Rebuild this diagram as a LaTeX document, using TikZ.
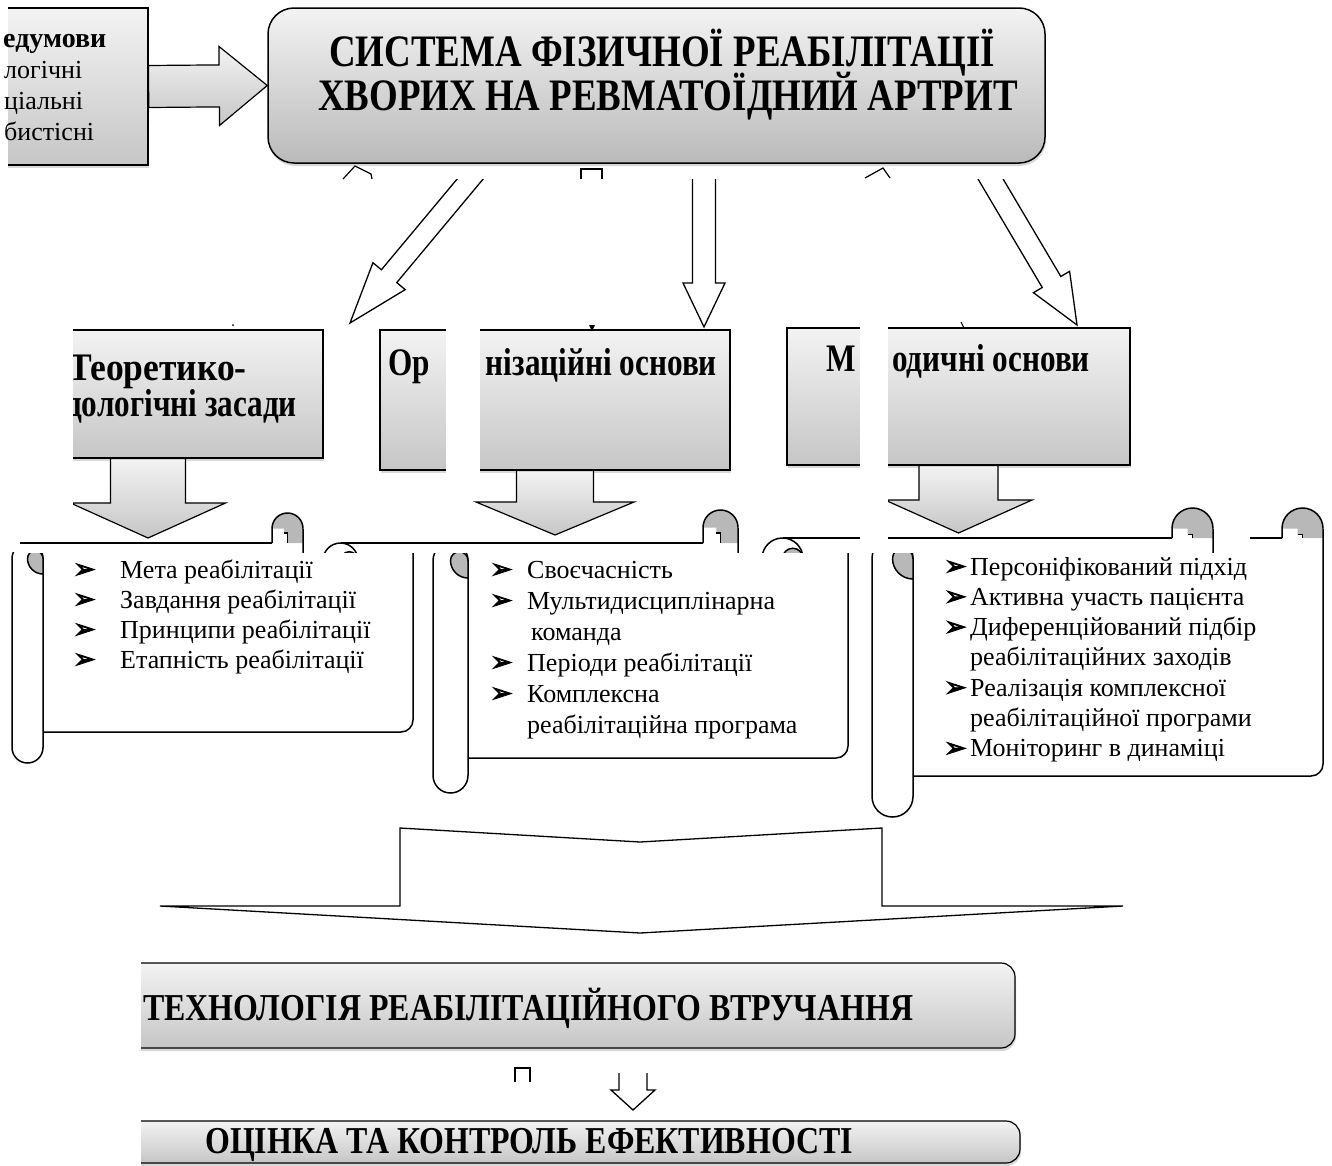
\documentclass[tikz,border=0pt]{standalone}
\usepackage{fontspec}
\setmainfont{Liberation Serif}
\IfFontExistsTF{Liberation Serif Bold}{%
  \newfontfamily\titlefont[FakeStretch=0.82]{Liberation Serif Bold}
  \newfontfamily\condfont[FakeStretch=0.8]{Liberation Serif Bold}
  \newfontfamily\widefont[FakeStretch=0.91]{Liberation Serif Bold}
  \newfontfamily\lowfont[FakeStretch=0.84]{Liberation Serif Bold}
  \newfontfamily\boldserif{Liberation Serif Bold}
}{%
  \newfontfamily\titlefont[FakeStretch=0.74]{DejaVu Serif Bold}
  \newfontfamily\condfont[FakeStretch=0.72]{DejaVu Serif Bold}
  \newfontfamily\widefont[FakeStretch=0.82]{DejaVu Serif Bold}
  \newfontfamily\lowfont[FakeStretch=0.755]{DejaVu Serif Bold}
  \newfontfamily\boldserif[FakeStretch=0.85]{DejaVu Serif Bold}
}
\newfontfamily\symfont[FakeBold=3]{DejaVu Sans}
\usepackage{tikz}
\usetikzlibrary{calc,shadows}

\definecolor{boxtop}{HTML}{F3F3F3}
\definecolor{boxbottom}{HTML}{C6C6C6}
\definecolor{titlebottom}{HTML}{BABABA}
\definecolor{curlgray}{HTML}{B8B8B8}

% block arrow: [style]{from}{to}{shaft half width}{head half width}{head length}
\newcommand{\blockarrow}[6][]{%
  \coordinate (ba-base) at ($(#3)!#6!(#2)$);
  \draw[#1] ($(#2)!#4!90:(#3)$) -- ($(ba-base)!#4!90:(#3)$) -- ($(ba-base)!#5!90:(#3)$)
    -- (#3) -- ($(ba-base)!#5!-90:(#3)$) -- ($(ba-base)!#4!-90:(#3)$) -- ($(#2)!#4!-90:(#3)$) -- cycle;
}

% scroll: {left}{top line}{right}{roll bottom}{roll width}{curl top}
\newcommand{\scrollshape}[6]{%
  \fill[white] ({#1+#5/2},#2) rectangle (#3,{#4-#5});
  \draw[scrolline] ({#1+#5/2},#2) -- ({#3-#5},#2);
  \fill[curlgray] ({#3-#5},{#6+#5/2}) arc[start angle=180,end angle=360,radius=#5/2] -- (#3,#2)
    -- ({#3-#5/2},#2) -- ({#3-#5/2},{#6+0.65*#5}) -- ({#3-0.62*#5},{#6+0.65*#5}) -- ({#3-0.62*#5},{#6+#5/2}) -- cycle;
  \draw[scrolline] ({#3-#5},#2) -- ({#3-#5},{#6+#5/2}) arc[start angle=180,end angle=360,radius=#5/2];
  \draw[scrolline] ({#3-#5/2},#2) -- ({#3-#5/2},{#6+0.65*#5}) -- ({#3-0.62*#5},{#6+0.65*#5});
  \draw[scrolline, rounded corners=12pt] (#3,{#6+#5/2}) -- (#3,{#4-#5}) -- ({#1+#5},{#4-#5});
  \filldraw[scrolline, fill=white] ({#1+#5},{#2+#5/2}) arc[start angle=0,end angle=-180,radius=#5/2]
    -- (#1,{#4-#5/2}) arc[start angle=180,end angle=0,radius=#5/2] -- cycle;
  \filldraw[scrolline, fill=curlgray] ({#1+#5/2},{#2+#5/2}) arc[start angle=180,end angle=360,radius=#5/4]
    -- ({#1+#5},{#2+#5}) arc[start angle=90,end angle=180,radius=#5/2] -- cycle;
}
\newcommand{\allscrolls}{%
  \scrollshape{12}{543}{413}{763}{31}{513}
  \scrollshape{433}{543}{848}{793}{35}{510}
  \scrollshape{872}{538}{1323}{817}{41}{508}
}

\begin{document}
\begin{tikzpicture}[x=1pt, y=-1pt,
headbox/.style={draw, line width=1.2pt, top color=boxtop, bottom color=boxbottom, drop shadow={shadow xshift=1pt, shadow yshift=-3pt, opacity=0.3}, inner sep=0},
titlebox/.style={headbox, line width=1.5pt, rounded corners=26pt, bottom color=titlebottom},
lowbox/.style={headbox, rounded corners=14pt},
fillarrow/.style={draw, line width=1.2pt, line join=miter, top color=boxtop, bottom color=boxbottom},
hollowarrow/.style={draw, fill=white, line width=1.3pt, line join=miter},
scrolline/.style={line width=1.5pt},
titletext/.style={font=\titlefont\fontsize{45}{45}\selectfont, inner sep=0, anchor=base},
headtext/.style={font=\condfont\fontsize{39}{39}\selectfont, inner sep=0},
lowtext/.style={font=\lowfont\fontsize{38}{38}\selectfont, inner sep=0, anchor=base west},
pretext/.style={font=\fontsize{26}{30}\selectfont, inner sep=0, anchor=base west},
itemtext/.style={font=\fontsize{26}{30}\selectfont, inner sep=0, anchor=base west},
bullet/.style={font=\symfont\fontsize{27}{27}\selectfont, inner sep=0, anchor=base west},
stripe/.style={fill=white}
]
\fill[white] (0,0) rectangle (1332,1165);
\useasboundingbox (0,0) rectangle (1332,1165);

% top row
\begin{scope}
  \clip (8,0) rectangle (300,200);
  \node[headbox, minimum width=188pt, minimum height=157pt] (prereq) at (54,86.5) {};
\end{scope}
\node[pretext, font=\boldserif\fontsize{28}{30}\selectfont] (pre-1) at (3,47) {едумови};
\foreach \txt [count=\i from 2] in {логічні, ціальні, бистісні}
  \node[pretext] (pre-\i) at (4,16+31*\i) {\txt};
\node[titlebox, minimum width=777pt, minimum height=155pt] (title) at (656.5,85.5) {};
\node[titletext] (title-1) at (662,66) {СИСТЕМА ФІЗИЧНОЇ РЕАБІЛІТАЦІЇ};
\node[titletext] (title-2) at (668,110) {ХВОРИХ НА РЕВМАТОЇДНИЙ АРТРИТ};
\blockarrow[fillarrow]{prereq.east}{title.west}{21pt}{39.5pt}{48pt}

% arrows from the title
\coordinate (fromA) at (486,160);
\coordinate (toA) at (350,323);
\coordinate (fromB) at (704,160);
\coordinate (toB) at (704,327);
\coordinate (fromC) at (979.3,160);
\coordinate (toC) at (1077,325);
\begin{scope}
  \clip (0,179) rectangle (1332,340);
  \blockarrow[hollowarrow]{fromA}{toA}{10pt}{21pt}{61pt}
  \blockarrow[hollowarrow]{fromB}{toB}{11.5pt}{21pt}{44pt}
  \blockarrow[hollowarrow]{fromC}{toC}{10.8pt}{21pt}{50pt}
\end{scope}
\draw[line width=1.2pt] (343,179) -- (355,166) -- (371,174) -- (372,179);
\draw[line width=1.2pt] (581,179) -- (581,169) -- (602,169) -- (602,179);
\draw[line width=1.2pt] (865,178) -- (883,168) -- (890,178);
\fill (589,325) -- (595,325) -- (592,331) -- cycle;
\draw[line width=1pt] (961,322) -- (965,330);

% scrolls
\begin{scope}
  \clip (0,552) rectangle (1332,830);
  \allscrolls
\end{scope}
\begin{scope}
  \clip (20,480) rectangle (1250,552);
  \begin{scope}[xshift=-110pt]
    \allscrolls
  \end{scope}
\end{scope}
\begin{scope}
  \clip (1250,480) rectangle (1332,552);
  \allscrolls
\end{scope}

% second row
\coordinate (tipT) at (148,538);
\coordinate (tipO) at (555,535);
\coordinate (tipM) at (958.5,533);
\begin{scope}
  \clip (73,300) rectangle (1332,560);
  \node[headbox, minimum width=350pt, minimum height=128pt] (theory) at (148,394) {};
  \node[headtext, font=\widefont\fontsize{39}{39}\selectfont, anchor=base east] (theory-1) at (247,380) {Теоретико-};
  \node[headtext, anchor=base east] (theory-2) at (297,416) {дологічні засади};
  \blockarrow[fillarrow]{theory.south}{tipT}{37.5pt}{77.5pt}{35pt}
\end{scope}
\node[headbox, minimum width=350pt, minimum height=140pt] (org) at (555,400) {};
\node[headtext, anchor=base west] (org-1) at (388,375) {Ор};
\node[headtext, anchor=base east] (org-2) at (717,375) {нізаційні основи};
\blockarrow[fillarrow]{org.south}{tipO}{38.5pt}{79pt}{33pt}
\node[headbox, minimum width=343pt, minimum height=137pt] (meth) at (958.5,396.5) {};
\node[headtext, anchor=base west] (meth-1) at (826,371) {М};
\node[headtext, anchor=base east] (meth-2) at (1090,371) {одичні основи};
\blockarrow[fillarrow]{meth.south}{tipM}{39.5pt}{73.5pt}{33pt}
\fill[stripe] (446,322) rectangle (480,500);
\fill[stripe] (860,318) rectangle (888,541);
\fill (233,325) circle[radius=1];

% lists
\foreach \txt [count=\i] in {Мета реабілітації, Завдання реабілітації, Принципи реабілітації, Етапність реабілітації} {
  \node[bullet] (theob-\i) at (73,548+30*\i) {➢};
  \node[itemtext] (theol-\i) at (120,548+30*\i) {\txt};
}
\foreach \txt/\b/\x [count=\i] in {Своєчасність/1/527, Мультидисциплінарна/1/527, команда/0/531, Періоди реабілітації/1/527, Комплексна/1/527, реабілітаційна програма/0/527} {
  \node[itemtext] (orgl-\i) at (\x,547+31*\i) {\txt};
  \ifnum\b=1 \node[bullet] (orgb-\i) at (490,547+31*\i) {➢}; \fi
}
\foreach \txt/\b [count=\i] in {Персоніфікований підхід/1, Активна участь пацієнта/1, Диференційований підбір/1, реабілітаційних заходів/0, Реалізація комплексної/1, реабілітаційної програми/0, Моніторинг в динаміці/1} {
  \node[itemtext] (methl-\i) at (970,544.7+30.3*\i) {\txt};
  \ifnum\b=1 \node[bullet] (methb-\i) at (944,544.7+30.3*\i) {➢}; \fi
}

% big arrow into the technology
\coordinate (bigtip) at (640,933);
\draw[hollowarrow] (400,828) -- (640,842) -- (882,828) -- (882,906) -- (1123,906) -- (bigtip) -- (160,906) -- (400,906) -- cycle;

% bottom row
\begin{scope}
  \clip (141,900) rectangle (1332,1165);
  \node[lowbox, minimum width=955pt, minimum height=85pt] (tech) at (537.5,1005.5) {};
  \node[lowbox, minimum width=960pt, minimum height=42pt] (eval) at (540,1142) {};
\end{scope}
\node[lowtext] (tech-1) at (143,1020) {ТЕХНОЛОГІЯ РЕАБІЛІТАЦІЙНОГО ВТРУЧАННЯ};
\node[lowtext] (eval-1) at (205,1153) {ОЦІНКА ТА КОНТРОЛЬ ЕФЕКТИВНОСТІ};
\coordinate (evalfrom) at (633,1060);
\coordinate (evaltip) at (633,1110);
\begin{scope}
  \clip (0,1073) rectangle (1332,1120);
  \blockarrow[hollowarrow]{evalfrom}{evaltip}{14pt}{22pt}{20pt}
\end{scope}
\draw[line width=1.2pt] (515,1082) -- (515,1068) -- (530,1068) -- (530,1082);
\end{tikzpicture}
\end{document}
